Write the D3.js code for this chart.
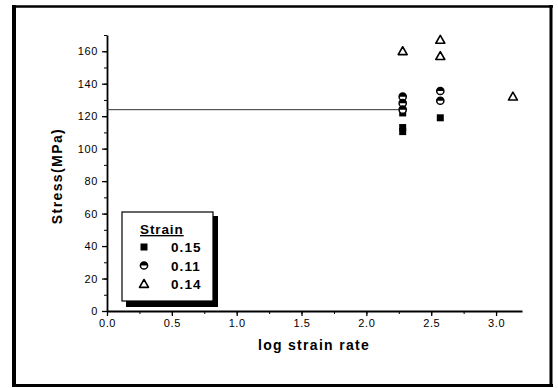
<!DOCTYPE html>
<html>
<head>
<meta charset="utf-8">
<script src="https://cdnjs.cloudflare.com/ajax/libs/d3/7.8.5/d3.min.js"></script>
<style>
  body { margin: 0; background: #fff; }
  svg { display: block; font-family: "Liberation Sans", Arial, sans-serif; }
</style>
</head>
<body>
<script>
// Data (x = log strain rate, y = stress MPa)
var strain15X = [2.28, 2.28, 2.28, 2.57];
var strain15Y = [122, 113, 110.5, 119];
var strain11X = [2.28, 2.28, 2.28, 2.57, 2.57];
var strain11Y = [132, 128, 124, 135.5, 129.5];
var strain14X = [2.28, 2.57, 2.57, 3.13];
var strain14Y = [160, 167, 157, 132];
var refLineY = 124, refLineX = [0, 2.25];
var legendLabels = ["0.15", "0.11", "0.14"];

var W = 558, H = 388;
var svg = d3.select("body").append("svg")
    .attr("width", W).attr("height", H);

// outer frame
var frame = svg.append("g").attr("stroke", "#000").attr("fill", "none");
frame.append("line").attr("x1", 12).attr("x2", 553).attr("y1", 6.5).attr("y2", 6.5).attr("stroke-width", 2.5);
frame.append("line").attr("x1", 12).attr("x2", 553).attr("y1", 385.5).attr("y2", 385.5).attr("stroke-width", 3);
frame.append("line").attr("x1", 14).attr("x2", 14).attr("y1", 5).attr("y2", 387).attr("stroke-width", 4);
frame.append("line").attr("x1", 551).attr("x2", 551).attr("y1", 5).attr("y2", 387).attr("stroke-width", 3);

var x = d3.scaleLinear().domain([0, 3.2]).range([107, 522]);
var y = d3.scaleLinear().domain([0, 170]).range([311, 35]);

// minor ticks
svg.append("g").attr("transform", "translate(0,311)")
    .call(d3.axisBottom(x).tickValues(d3.range(0, 3.21, 0.25)).tickSize(3).tickFormat(""))
    .call(function(g) { g.select(".domain").remove(); });
svg.append("g").attr("transform", "translate(107,0)")
    .call(d3.axisLeft(y).tickValues(d3.range(0, 171, 10)).tickSize(3).tickFormat(""))
    .call(function(g) { g.select(".domain").remove(); });

// major axes
var xAxis = svg.append("g").attr("transform", "translate(0,311)")
    .call(d3.axisBottom(x).tickValues([0, 0.5, 1, 1.5, 2, 2.5, 3]).tickSize(5).tickSizeOuter(0).tickPadding(3)
        .tickFormat(d3.format(".1f")));
var yAxis = svg.append("g").attr("transform", "translate(107,0)")
    .call(d3.axisLeft(y).tickValues(d3.range(0, 161, 20)).tickSize(5).tickSizeOuter(0).tickPadding(4));
[xAxis, yAxis].forEach(function(a) {
    a.selectAll("text").attr("font-size", 11).attr("letter-spacing", 0.6)
        .attr("font-family", "Liberation Sans, Arial, sans-serif").attr("fill", "#000");
    a.selectAll("line").attr("stroke-width", 1.3);
    a.select(".domain").attr("stroke-width", 1.8);
});

// axis titles
svg.append("text").attr("x", 314).attr("y", 350).attr("text-anchor", "middle")
    .attr("font-size", 14).attr("font-weight", "bold").attr("letter-spacing", 1.3)
    .text("log strain rate");
svg.append("text").attr("transform", "translate(62,176) rotate(-90)").attr("text-anchor", "middle")
    .attr("font-size", 14).attr("font-weight", "bold").attr("letter-spacing", 1.4)
    .text("Stress(MPa)");

// horizontal reference line
svg.append("line")
    .attr("x1", x(refLineX[0])).attr("x2", x(refLineX[1]))
    .attr("y1", y(refLineY)).attr("y2", y(refLineY))
    .attr("stroke", "#333").attr("stroke-width", 1);

// marker drawers
function drawSquare(g, cx, cy) {
    g.append("rect").attr("x", cx - 3.5).attr("y", cy - 3.5).attr("width", 7).attr("height", 7).attr("fill", "#000");
}
function drawCircle(g, cx, cy) {
    g.append("circle").attr("cx", cx).attr("cy", cy).attr("r", 3.6)
        .attr("fill", "#fff").attr("stroke", "#000").attr("stroke-width", 1.5);
    g.append("path").attr("d", "M" + (cx - 3.6) + "," + cy + " A3.6,3.6 0 0 1 " + (cx + 3.6) + "," + cy + " Z")
        .attr("fill", "#000");
}
function drawTriangle(g, cx, cy) {
    var s = 4.5;
    g.append("path").attr("d", "M" + cx + "," + (cy - s) + " L" + (cx + s) + "," + (cy + s * 0.75) +
        " L" + (cx - s) + "," + (cy + s * 0.75) + " Z")
        .attr("fill", "#fff").attr("stroke", "#000").attr("stroke-width", 1.6).attr("stroke-linejoin", "round");
}

var marks = svg.append("g");
strain15X.forEach(function(v, i) { drawSquare(marks, x(v), y(strain15Y[i])); });
strain11X.forEach(function(v, i) { drawCircle(marks, x(v), y(strain11Y[i])); });
strain14X.forEach(function(v, i) { drawTriangle(marks, x(v), y(strain14Y[i])); });

// legend with shadow
var lg = svg.append("g");
lg.append("rect").attr("x", 126).attr("y", 216).attr("width", 92).attr("height", 91).attr("fill", "#000");
lg.append("rect").attr("x", 122).attr("y", 212).attr("width", 91).attr("height", 89)
    .attr("fill", "#fff").attr("stroke", "#000").attr("stroke-width", 1.2);
lg.append("text").attr("x", 140).attr("y", 234).attr("font-size", 13.5).attr("font-weight", "bold")
    .attr("text-decoration", "underline").attr("letter-spacing", 0.9).text("Strain");
var drawers = [drawSquare, drawCircle, drawTriangle];
legendLabels.forEach(function(l, i) {
    var cy = 247 + i * 18.5;
    drawers[i](lg, 144, cy);
    lg.append("text").attr("x", 171).attr("y", cy + 5).attr("font-size", 13.5).attr("font-weight", "bold")
        .attr("letter-spacing", 1.1).text(l);
});
</script>
</body>
</html>
